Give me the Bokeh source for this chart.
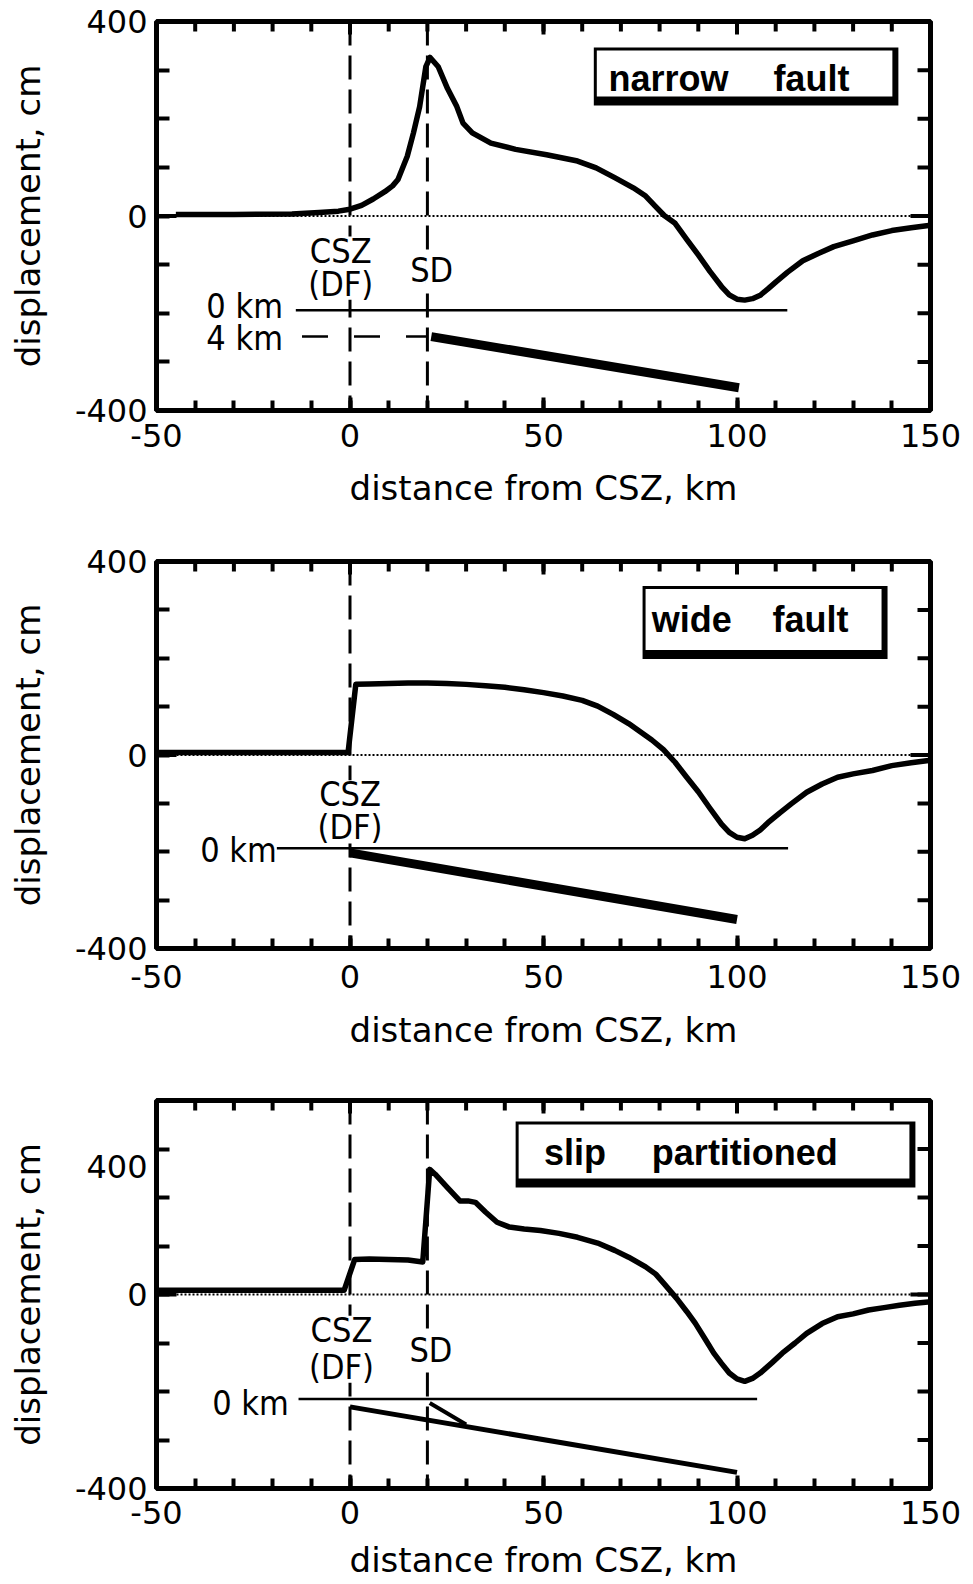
import math

from bokeh.plotting import figure
from bokeh.layouts import column
from bokeh.models import FixedTicker, Label, Range1d, Span, BoxAnnotation
from bokeh.embed import file_html
from bokeh.resources import INLINE

# ---------------------------------------------------------------------------
# Surface displacement profiles: distance from CSZ (km) -> displacement (cm)
# ---------------------------------------------------------------------------
narrow_x = [-45, -30, -15, -8, -3, 0, 3, 6, 9, 11, 12.4, 14.8, 16.4, 18, 19.6,
            20.7, 22.8, 25.2, 27.6, 29.2, 31.6, 36.4, 42.8, 50.8, 58.8, 63.6,
            68.4, 73.2, 76.4, 78.8, 81.2, 84, 87, 90, 93, 96, 98, 100, 102,
            104, 106, 108, 110, 113, 117, 121, 125, 130, 135, 140, 145, 150]
narrow_y = [3, 3, 4, 7, 10, 14, 22, 35, 50, 62, 75, 123, 171, 225, 307,
            326, 307, 262, 225, 191, 171, 150, 137, 126, 113, 99,
            79, 58, 41, 21, 1, -15, -48, -80, -114, -145, -162, -171, -173,
            -170, -163, -150, -136, -116, -92, -77, -63, -51, -39, -30, -24, -19]

wide_x = [-50, -25, -0.5, 1.5, 5, 10, 15, 20, 25, 30, 35, 40, 45, 50, 55, 60,
          64, 68, 72, 75, 78, 81, 84, 87, 90, 93, 96, 98, 100, 102, 104, 106,
          108, 111, 114, 118, 122, 126, 130, 135, 140, 145, 150]
wide_y = [5, 5, 5, 146, 147, 148, 149, 149, 148, 146, 143, 140, 135, 129, 122, 113,
          101, 84, 65, 48, 31, 11, -15, -46, -76, -110, -143, -160, -170, -173, -166, -155,
          -140, -120, -101, -77, -60, -46, -39, -32, -22, -16, -11]

part_x = [-50, -25, -1.5, 1.2, 5, 10, 15, 18.8, 20.6, 22, 25, 28.4, 30.5, 32.4,
          35, 38, 41.2, 45, 49.2, 54, 58.8, 64, 68.4, 72, 76.4, 79, 81.2, 84.4,
          87, 89.2, 92, 94, 96, 98, 100, 102, 104, 106, 109, 111.7, 115, 118,
          122, 126, 130, 134, 138, 142, 146, 150]
part_y = [9, 9, 9, 72, 73, 72, 71, 67, 258, 248, 222, 193, 193, 190,
          170, 149, 139, 135, 132, 126, 118, 106, 91, 77, 57, 42, 22, -8,
          -35, -59, -95, -121, -142, -162, -174, -179, -173, -162, -141, -121, -100, -80,
          -60, -46, -40, -32, -27, -22, -18, -15]

# ---------------------------------------------------------------------------
# Fault sketches: distance (km) and depth (km)
# ---------------------------------------------------------------------------
CSZ_X = 0     # Cascadia subduction zone deformation front
SD_X = 20     # splay fault (SD)

narrow_surface_x = [-14, 113]
narrow_4km_x = [-12.4, 20]
narrow_fault_x = [21, 100.5]
narrow_fault_depth = [4.0, 11.8]

wide_surface_x = [-18.9, 113.2]
wide_fault_x = [0, 100]
wide_fault_depth = [0.7, 10.9]

part_surface_x = [-13.3, 105.2]
part_csz_x = [0, 100]
part_csz_depth = [1.2, 11.2]
part_sd_x = [20.6, 30]
part_sd_depth = [0.6, 3.9]

# axis ticks
x_major = [-50, 0, 50, 100, 150]
x_minor = list(range(-50, 151, 10))
y_major = [-400, 0, 400]
y_minor = list(range(-400, 401, 100))
x_labels = {v: str(v) for v in x_major}
y_labels = {-400: "-400", 0: "0", 400: "400"}
# the lowest panel carries its "400" label beside the 260 cm level
part_y_ticks = [-400, 0, 264]
part_y_labels = {-400: "-400", 0: "0", 264: "400"}

KM = 13.5                        # plot units per km of depth in the sketches
TICK_FONT = "DejaVu Sans"
NOTE_FONT = "DejaVu Sans Condensed, Liberation Sans"
BOX_FONT = "Liberation Sans"
X_PX = 200 / 774                 # x units per screen pixel
Y_PX = 800 / 389                 # y units per screen pixel


def make_panel(frame_height, border_top, border_bottom, y_ticks, y_tick_labels):
    p = figure(frame_width=774, frame_height=frame_height,
               x_range=Range1d(-50, 150), y_range=Range1d(-400, 400),
               output_backend="svg", toolbar_location=None,
               min_border_left=156, min_border_right=43,
               min_border_top=border_top, min_border_bottom=border_bottom,
               background_fill_color="white", border_fill_color="white",
               outline_line_color="black", outline_line_width=5)
    p.grid.visible = False
    xb = p.xaxis[0]
    yl = p.yaxis[0]
    xb.ticker = FixedTicker(ticks=x_major, minor_ticks=x_minor)
    xb.major_label_overrides = x_labels
    xb.major_tick_in = 13
    xb.minor_tick_in = 10
    yl.ticker = FixedTicker(ticks=y_ticks, minor_ticks=y_minor)
    yl.major_label_overrides = y_tick_labels
    yl.major_tick_line_color = None
    yl.minor_tick_in = 13
    for ax in (xb, yl):
        ax.axis_line_color = None
        ax.major_tick_out = 0
        ax.minor_tick_out = 0
        ax.major_tick_line_width = 4
        ax.minor_tick_line_width = 4
        ax.minor_tick_line_color = "black"
        ax.major_label_text_font = TICK_FONT
        ax.major_label_text_font_size = "32px"
        ax.major_label_text_color = "black"
        ax.axis_label_text_font = TICK_FONT
        ax.axis_label_text_font_size = "34px"
        ax.axis_label_text_font_style = "normal"
        ax.axis_label_text_color = "black"
    xb.major_tick_line_color = "black"
    xb.axis_label = "distance from CSZ, km"
    xb.major_label_standoff = 13
    xb.axis_label_standoff = 18
    yl.axis_label = "displacement, cm"
    yl.major_label_standoff = 9
    yl.axis_label_standoff = 24

    # long zero ticks on both vertical edges
    p.ray(x=[-50], y=[0], length=20, angle=0, length_units="screen",
          line_color="black", line_width=4)
    p.ray(x=[150], y=[0], length=20, angle=math.pi, length_units="screen",
          line_color="black", line_width=4)
    # tick marks mirrored on the top and right edges of the frame
    p.ray(x=x_minor, y=[400] * len(x_minor), length=10, angle=-math.pi / 2,
          length_units="screen", line_color="black", line_width=4)
    p.ray(x=x_major, y=[400] * len(x_major), length=13, angle=-math.pi / 2,
          length_units="screen", line_color="black", line_width=4)
    p.ray(x=[150] * len(y_minor), y=y_minor, length=13, angle=math.pi,
          length_units="screen", line_color="black", line_width=4)

    p.add_layout(Span(location=0, dimension="width", line_color="black",
                      line_width=2, line_dash="2 2"))
    return p


def fault_marker(p, x):
    p.add_layout(Span(location=x, dimension="height", line_color="black",
                      line_width=3, line_dash="24 10"))


def clear_strip(p, x, top, bottom):
    # white strip that keeps a dashed marker from running through its label
    p.add_layout(BoxAnnotation(left=x - 2 * X_PX, right=x + 2 * X_PX, top=top,
                               bottom=bottom, fill_color="white", fill_alpha=1.0,
                               line_color=None))


def note(p, x, y, text, align="center", font=NOTE_FONT, size="34px", style="normal"):
    p.add_layout(Label(x=x, y=y, text=text, text_font=font, text_font_size=size,
                       text_font_style=style, text_color="black",
                       text_align=align, text_baseline="middle"))


def title_box(p, left, right, top, bottom, words, mid_y):
    p.add_layout(BoxAnnotation(left=left, right=right, top=top, bottom=bottom,
                               fill_color="black", fill_alpha=1.0, line_color=None))
    p.add_layout(BoxAnnotation(left=left + 3 * X_PX, right=right - 6 * X_PX,
                               top=top - 3 * Y_PX, bottom=bottom + 9 * Y_PX,
                               fill_color="white", fill_alpha=1.0, line_color=None))
    for wx, word in words:
        note(p, wx, mid_y, word, align="left", font=BOX_FONT, size="36px", style="bold")


def depth_y(depths, surface):
    return [surface - KM * d for d in depths]


# ---------------- narrow fault ----------------
p1 = make_panel(389, 21, 120, y_major, y_labels)
surf1 = -194
fault_marker(p1, CSZ_X)
fault_marker(p1, SD_X)
p1.line(narrow_x, narrow_y, line_color="black", line_width=5.5, line_join="round")
p1.line(narrow_surface_x, depth_y([0, 0], surf1), line_color="black", line_width=2.5)
p1.line(narrow_4km_x, depth_y([4, 4], surf1), line_color="black", line_width=2.5,
        line_dash="26 26")
p1.line(narrow_fault_x, depth_y(narrow_fault_depth, surf1), line_color="black",
        line_width=9)
clear_strip(p1, CSZ_X, -42, -172)
clear_strip(p1, SD_X, -85, -143)
note(p1, -2.4, -71, "CSZ")
note(p1, -2.4, -139, "(DF)")
note(p1, 21.1, -112, "SD")
note(p1, -17.3, -186, "0 km", align="right")
note(p1, -17.3, -250, "4 km", align="right")
title_box(p1, 63.0, 141.7, 346.5, 227.2, [(66.8, "narrow"), (109.4, "fault")], 283)

# ---------------- wide fault ----------------
p2 = make_panel(387, 31, 122, y_major, y_labels)
p2.xaxis[0].major_label_standoff = 16
p2.xaxis[0].axis_label_standoff = 19
surf2 = -193
fault_marker(p2, CSZ_X)
p2.line(wide_x, wide_y, line_color="black", line_width=5.5, line_join="round")
p2.line(wide_surface_x, depth_y([0, 0], surf2), line_color="black", line_width=2.5)
p2.line(wide_fault_x, depth_y(wide_fault_depth, surf2), line_color="black",
        line_width=9)
clear_strip(p2, CSZ_X, -52, -183)
note(p2, 0, -80, "CSZ")
note(p2, 0, -149, "(DF)")
note(p2, -18.9, -196, "0 km", align="right")
title_box(p2, 75.6, 138.9, 349.4, 198.4, [(78.0, "wide"), (109.2, "fault")], 281)

# ---------------- slip partitioned ----------------
p3 = make_panel(388, 30, 96, part_y_ticks, part_y_labels)
p3.xaxis[0].major_label_standoff = 12
p3.xaxis[0].axis_label_standoff = 13
surf3 = -215.5
fault_marker(p3, CSZ_X)
fault_marker(p3, SD_X)
p3.line(part_x, part_y, line_color="black", line_width=5.5, line_join="round")
p3.line(part_surface_x, depth_y([0, 0], surf3), line_color="black", line_width=2.5)
p3.line(part_csz_x, depth_y(part_csz_depth, surf3), line_color="black", line_width=5)
p3.line(part_sd_x, depth_y(part_sd_depth, surf3), line_color="black", line_width=4)
clear_strip(p3, CSZ_X, -44, -182)
clear_strip(p3, SD_X, -86, -142)
note(p3, -2.2, -73, "CSZ")
note(p3, -2.2, -150, "(DF)")
note(p3, 20.9, -114, "SD")
note(p3, -15.8, -224, "0 km", align="right")
title_box(p3, 42.8, 146.1, 356.7, 220.6, [(50.1, "slip"), (78.0, "partitioned")], 293)

layout = column(p1, p2, p3, spacing=0)
open("out.html", "w").write(file_html(layout, INLINE))
